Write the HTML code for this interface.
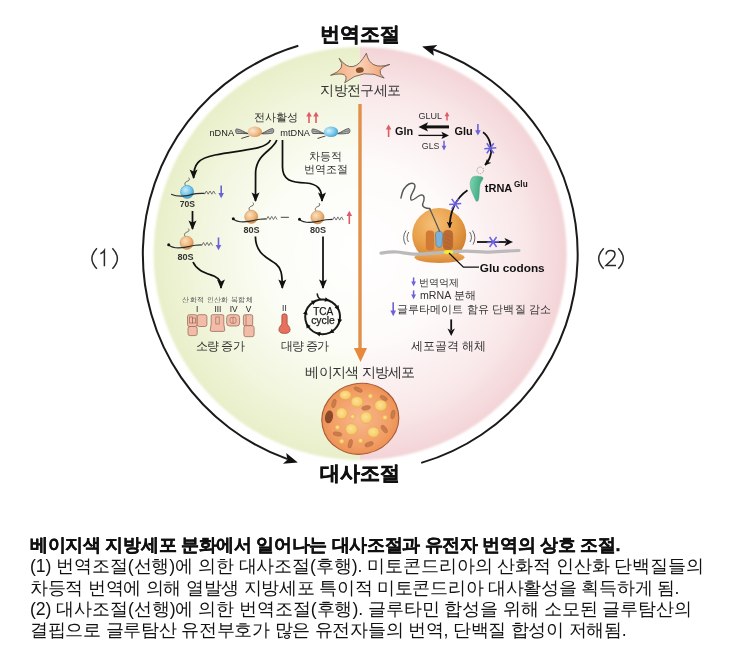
<!DOCTYPE html>
<html><head><meta charset="utf-8">
<style>
html,body{margin:0;padding:0;background:#fff;width:745px;height:658px;overflow:hidden}
svg{position:absolute;left:0;top:0;display:block;will-change:transform}
text{font-family:"Liberation Sans",sans-serif}
.cap{will-change:transform;position:absolute;left:29.5px;white-space:nowrap;font-family:"Liberation Sans",sans-serif;font-size:17.7px;color:#111;line-height:21px}
</style></head><body>
<svg width="745" height="658" viewBox="0 0 745 658">
<defs>
  <radialGradient id="gL" cx="360.2" cy="253.5" r="206.5" gradientUnits="userSpaceOnUse">
    <stop offset="0" stop-color="#ffffff"/>
    <stop offset="0.45" stop-color="#fcfdf6"/>
    <stop offset="0.8" stop-color="#f1f5dc"/>
    <stop offset="1" stop-color="#e8efc8"/>
  </radialGradient>
  <radialGradient id="gR" cx="360.2" cy="253.5" r="206.5" gradientUnits="userSpaceOnUse">
    <stop offset="0" stop-color="#ffffff"/>
    <stop offset="0.45" stop-color="#fefafa"/>
    <stop offset="0.8" stop-color="#f9e7e8"/>
    <stop offset="1" stop-color="#f3d4d7"/>
  </radialGradient>
  <clipPath id="cl"><rect x="0" y="0" width="360" height="658"/></clipPath>
  <clipPath id="cr"><rect x="360" y="0" width="400" height="658"/></clipPath>

  <radialGradient id="gOr" cx="0.38" cy="0.35" r="0.7">
    <stop offset="0" stop-color="#fbe0bc"/>
    <stop offset="0.6" stop-color="#eeb47a"/>
    <stop offset="1" stop-color="#d08a48"/>
  </radialGradient>
  <radialGradient id="gBl" cx="0.38" cy="0.35" r="0.7">
    <stop offset="0" stop-color="#c8ecfa"/>
    <stop offset="0.6" stop-color="#6cc4ea"/>
    <stop offset="1" stop-color="#3a98c8"/>
  </radialGradient>
  <radialGradient id="gDn" cx="0.35" cy="0.4" r="0.75">
    <stop offset="0" stop-color="#fbe6d0"/>
    <stop offset="0.55" stop-color="#efbd8c"/>
    <stop offset="1" stop-color="#d88a48"/>
  </radialGradient>
  <radialGradient id="gDb" cx="0.35" cy="0.4" r="0.75">
    <stop offset="0" stop-color="#d8f2fc"/>
    <stop offset="0.55" stop-color="#78c8ec"/>
    <stop offset="1" stop-color="#3894c8"/>
  </radialGradient>
  <marker id="ah" viewBox="0 0 10 10" refX="9" refY="5" markerWidth="9.5" markerHeight="9.5" orient="auto" markerUnits="userSpaceOnUse">
    <path d="M0,0.8 L10,5 L0,9.2 L2.2,5 Z" fill="#111"/>
  </marker>
  <g id="aaa"><path d="M0,0.8 l1.8,-3.2 l1.8,3.2 l1.8,-3.2 l1.8,3.2 l1.8,-3.2 l1.8,3.2" fill="none" stroke="#555" stroke-width="0.8"/></g>
  <g id="ribO">
    <path d="M-1.5,-6.4 C-3.2,-8.6 -1.5,-10.2 0.5,-10.8 C2.5,-11.4 2.8,-13 1.5,-14.2" fill="none" stroke="#555" stroke-width="0.9"/>
    <circle cx="0" cy="0" r="6.6" fill="url(#gOr)" stroke="#b98654" stroke-width="0.5"/>
    <path d="M-18,2 Q-15,5 -8,5 Q-2,4.8 3,3.5 Q8,2 15,2" fill="none" stroke="#2a2a2a" stroke-width="1.2"/>
    <circle cx="-18" cy="2" r="1.5" fill="#111"/>
    <use href="#aaa" x="15" y="2"/>
  </g>
  <g id="dnaWings">
    <path d="M-18.5,-2.6 C-14,-2.4 -11,0.5 -6.5,2.2 C-10.5,2.4 -14.5,1.6 -18.2,2 C-19.4,0.4 -19.4,-1.2 -18.5,-2.6 Z" fill="#b4b4b4" stroke="#3a3a3a" stroke-width="0.75"/>
    <path d="M-18,-0.5 C-14,0 -11,1.5 -6.5,2.2" fill="none" stroke="#3a3a3a" stroke-width="0.5"/>
    <path d="M18,-3 C14,-2.6 11,0.5 6.5,2.2 C10.5,2.6 14.5,2.2 18,1.6 C19.3,0 19.2,-1.6 18,-3 Z" fill="#b4b4b4" stroke="#3a3a3a" stroke-width="0.75"/>
    <path d="M18,-0.8 C14,-0.3 11,1.5 6.5,2.2" fill="none" stroke="#3a3a3a" stroke-width="0.5"/>
    <path d="M-13.5,7 Q-10,5.8 -5.5,4.5" fill="none" stroke="#333" stroke-width="0.9"/>
  </g>

  <radialGradient id="gLsu" cx="0.4" cy="0.3" r="0.75">
    <stop offset="0" stop-color="#f6c078"/>
    <stop offset="0.55" stop-color="#e9a04a"/>
    <stop offset="1" stop-color="#cc7a2c"/>
  </radialGradient>
  <linearGradient id="gSsu" x1="0" y1="0" x2="0" y2="1">
    <stop offset="0" stop-color="#f0b060"/>
    <stop offset="1" stop-color="#d88838"/>
  </linearGradient>
  <linearGradient id="gTr" x1="0" y1="0" x2="1" y2="0.3">
    <stop offset="0" stop-color="#7ed6b0"/>
    <stop offset="1" stop-color="#3aa57e"/>
  </linearGradient>
  <radialGradient id="gAd" cx="0.5" cy="0.5" r="0.55">
    <stop offset="0" stop-color="#f8b88e"/>
    <stop offset="0.7" stop-color="#f29e64"/>
    <stop offset="1" stop-color="#ea8c50"/>
  </radialGradient>
  <radialGradient id="gLip" cx="0.45" cy="0.45" r="0.6">
    <stop offset="0" stop-color="#fde29a"/>
    <stop offset="1" stop-color="#f4c65a"/>
  </radialGradient>
  <linearGradient id="gCell" x1="0" y1="0" x2="1" y2="0">
    <stop offset="0" stop-color="#f4a878"/>
    <stop offset="0.5" stop-color="#fad0b4"/>
    <stop offset="1" stop-color="#ee9a66"/>
  </linearGradient>
  <marker id="ahs" viewBox="0 0 10 10" refX="9" refY="5" markerWidth="6.5" markerHeight="6.5" orient="auto" markerUnits="userSpaceOnUse">
    <path d="M0,0.5 L10,5 L0,9.5 L2.5,5 Z" fill="#111"/>
  </marker>
  <g id="ast"><path d="M-6,0.5 L6,-0.5 M-3.5,-5 L3.5,5 M3.5,-5 L-3.5,5" stroke="#6a62e0" stroke-width="1.5" fill="none"/></g>
  <filter id="soft" x="-5%" y="-5%" width="110%" height="110%"><feGaussianBlur stdDeviation="0.9"/></filter>
</defs>
<!-- circle -->
<circle cx="360.2" cy="253.5" r="206.5" fill="url(#gL)" clip-path="url(#cl)" filter="url(#soft)"/>
<circle cx="360.2" cy="253.5" r="206.5" fill="url(#gR)" clip-path="url(#cr)" filter="url(#soft)"/>
<!-- outer arcs -->
<path d="M298.3 45.8 A217.4 217.4 0 0 0 287.6 459.1" fill="none" stroke="#1a1a1a" stroke-width="2"/>
<path d="M421.2 462.9 A217.4 217.4 0 0 0 432.9 49.3" fill="none" stroke="#1a1a1a" stroke-width="2"/>
<path d="M297.8 462.6 L286.2 453 L287.4 459.8 L283 463.8 Z" fill="#111"/>
<path d="M422.1 46.5 L437.4 44.9 L433 48.9 L433.8 55.8 Z" fill="#111"/>
<!-- titles -->
<text x="359.5" y="40.6" font-size="19.8" font-weight="bold" text-anchor="middle" fill="#111" stroke="#111" stroke-width="0.6">번역조절</text>
<text x="360" y="480.4" font-size="19.8" font-weight="bold" text-anchor="middle" fill="#111" stroke="#111" stroke-width="0.6">대사조절</text>
<g fill="none" stroke="#2a2a2a" stroke-width="1.5" stroke-linecap="butt">
  <path d="M96.9,248.2 Q91.9,253.5 91.9,258.4 Q91.9,263.4 96.9,268.7"/>
  <path d="M100.4,253.8 Q103,252.6 104.4,250.3 L104.4,266.2"/>
  <path d="M112.4,248.2 Q117.4,253.5 117.4,258.4 Q117.4,263.4 112.4,268.7"/>
</g>
<g fill="none" stroke="#2a2a2a" stroke-width="1.5" stroke-linecap="butt">
  <path d="M603.7,248.2 Q598.7,253.5 598.7,258.4 Q598.7,263.4 603.7,268.7"/>
  <path d="M606,254.5 Q606.5,250.6 610.6,250.6 Q615,250.6 615,254.3 Q615,256.8 612.5,259.2 L606,265.5 L616,265.5"/>
  <path d="M618.3,248.2 Q623.3,253.5 623.3,258.4 Q623.3,263.4 618.3,268.7"/>
</g>
<!-- orange center arrow -->
<line x1="360" y1="104" x2="360" y2="350" stroke="#e0904a" stroke-width="3.4"/>
<path d="M353.9 347.9 L360.5 362 L367 347.9 Z" fill="#e8883a"/>
<text x="360.5" y="94.8" font-size="14" letter-spacing="-0.6" text-anchor="middle" fill="#333">지방전구세포</text>
<text x="360" y="377.4" font-size="14" letter-spacing="-0.7" text-anchor="middle" fill="#333">베이지색 지방세포</text>

<!-- ===== LEFT CONTENT ===== -->
<text x="276.3" y="121.3" font-size="10.6" text-anchor="middle" fill="#333">전사활성</text>
<g fill="#e05a64" stroke="#e05a64">
  <line x1="309" y1="123" x2="309" y2="115" stroke-width="1.6"/><path d="M306.2,116.5 L309,111.8 L311.8,116.5 Z" stroke="none"/>
  <line x1="316" y1="123" x2="316" y2="115" stroke-width="1.6"/><path d="M313.2,116.5 L316,111.8 L318.8,116.5 Z" stroke="none"/>
</g>
<text x="209.5" y="135.6" font-size="9.2" fill="#222">nDNA</text>
<text x="280.3" y="135.6" font-size="9.2" fill="#222">mtDNA</text>
<g transform="translate(254.8,131.5)"><use href="#dnaWings"/><ellipse cx="0" cy="0.3" rx="7.2" ry="5.2" fill="url(#gDn)"/></g>
<g transform="translate(331,131.5)"><use href="#dnaWings"/><ellipse cx="0" cy="0.3" rx="7.2" ry="5.2" fill="url(#gDb)"/></g>
<text x="325.1" y="159.8" font-size="10.8" text-anchor="middle" fill="#333">차등적</text>
<text x="326" y="172.6" font-size="10.8" text-anchor="middle" fill="#333">번역조절</text>
<!-- arrows from DNA -->
<g fill="none" stroke="#111" stroke-width="1.75" marker-end="url(#ah)">
  <path d="M270.5,140 C266,150 240,150 215,155 C198,158.5 193.6,164 193.6,178"/>
  <path d="M276.8,140 C273,151 257,153 255.6,172 L255.5,201"/>
  <path d="M282.5,140 L282.5,167 C282.5,180 291,182.5 306,183 C318,184 322,189 322,201"/>
  <path d="M192.5,211 L192.5,229"/>
  <path d="M193,262 C197,271 206,273 214,276 C220,279 221,282 221,288"/>
  <path d="M255.4,236.5 C255.5,254 268,258 276,264 C281,268 282.3,273 282.3,288"/>
  <path d="M323,236.5 L323,288"/>
</g>
<!-- 70S -->
<g transform="translate(187.1,191.9)">
  <path d="M-1.5,-6.4 C-3.2,-8.6 -1.5,-10.2 0.5,-10.8 C2.5,-11.4 2.8,-13 1.5,-14.2" fill="none" stroke="#555" stroke-width="0.9"/>
  <circle cx="0" cy="0" r="6.6" fill="url(#gBl)" stroke="#3f8fba" stroke-width="0.5"/>
  <path d="M-16,2.3 Q-11,4.5 -5,4.3 Q1,4 5,2.5 Q9,1.2 17.5,1.5" fill="none" stroke="#2a2a2a" stroke-width="1.2"/>
  <use href="#aaa" x="17.5" y="1.5"/>
</g>
<text x="187.3" y="207" font-size="8.6" font-weight="bold" text-anchor="middle" fill="#333">70S</text>
<g transform="translate(186.7,242.8)"><use href="#ribO"/></g>
<text x="185.5" y="259.6" font-size="9.1" font-weight="bold" text-anchor="middle" fill="#333">80S</text>
<g transform="translate(251.3,216.8)"><use href="#ribO"/></g>
<text x="251.5" y="232.8" font-size="9.1" font-weight="bold" text-anchor="middle" fill="#333">80S</text>
<line x1="280.8" y1="217.3" x2="288.9" y2="217.3" stroke="#444" stroke-width="1"/>
<g transform="translate(317.5,217.3)"><use href="#ribO"/></g>
<text x="318" y="232.8" font-size="9.1" font-weight="bold" text-anchor="middle" fill="#333">80S</text>
<!-- blue/red small arrows -->
<g fill="#6a62d8" stroke="#6a62d8">
  <line x1="221.2" y1="185.5" x2="221.2" y2="194" stroke-width="1.6"/><path d="M218.4,193 L221.2,198.2 L224,193 Z" stroke="none"/>
  <line x1="218.5" y1="237.5" x2="218.5" y2="246" stroke-width="1.6"/><path d="M215.7,245 L218.5,250.2 L221.3,245 Z" stroke="none"/>
</g>
<g fill="#e05a64" stroke="#e05a64">
  <line x1="349.3" y1="224" x2="349.3" y2="215" stroke-width="1.6"/><path d="M346.5,216 L349.3,210.8 L352.1,216 Z" stroke="none"/>
</g>
<!-- complexes -->
<text x="217.6" y="302" font-size="6.8" letter-spacing="0.35" text-anchor="middle" fill="#555">산화적 인산화 복합체</text>
<g font-size="8.4" fill="#222" text-anchor="middle">
  <text x="197.2" y="312.3">I</text><text x="217.9" y="312.3">III</text><text x="233.7" y="312.3">IV</text><text x="248.5" y="312.3">V</text>
</g>
<g fill="#f3bca8" stroke="#9a6e5e" stroke-width="0.8">
  <rect x="187.5" y="314.7" width="9.7" height="11.8" rx="2"/>
  <rect x="197.2" y="314.7" width="9.7" height="11.8" rx="2"/>
  <rect x="188" y="326.5" width="9.2" height="9.1" rx="2"/>
  <path d="M212.5,314.7 h10 q1.3,0 1.3,1.3 v8 l1,6 q0,1.4 -1.4,1.4 h-11.8 q-1.4,0 -1.4,-1.4 l1,-6 v-8 q0,-1.3 1.3,-1.3 Z"/>
  <rect x="226.7" y="314.7" width="12.9" height="11.3" rx="3"/>
  <rect x="243.4" y="314.7" width="9.3" height="11" rx="1.5"/>
  <rect x="243.9" y="325.7" width="10.2" height="11" rx="2"/>
</g>
<g fill="none" stroke="#9a6e5e" stroke-width="0.7">
  <rect x="189.5" y="317" width="3" height="6"/><rect x="192.5" y="318" width="3" height="5"/>
  <rect x="215.8" y="317" width="3.4" height="7"/>
  <rect x="230" y="317.3" width="6" height="6" rx="2"/><line x1="233" y1="317.3" x2="233" y2="323.3"/>
  <line x1="246" y1="315" x2="246" y2="325"/>
</g>
<text x="284.4" y="311" font-size="8.4" text-anchor="middle" fill="#222">II</text>
<path d="M282.5,314.3 q2,-1 3.8,0 q0.8,0.6 0.8,2 v7 q0,1 1,2 q2,2 2,4.5 q0,3.6 -5.6,3.6 q-5.6,0 -5.6,-3.6 q0,-2.5 2,-4.5 q1,-1 1,-2 v-7 q0,-1.4 0.6,-2 Z" fill="#e8705e" stroke="#9a4a3a" stroke-width="0.8"/>
<!-- TCA -->
<circle cx="322.6" cy="316.8" r="17.4" fill="none" stroke="#1a1a1a" stroke-width="2"/>
<path d="M317.1,293.4 Q317.5,297.5 320.8,299.6" fill="none" stroke="#1a1a1a" stroke-width="1.4"/>
<g fill="#111">
<path d="M329.5,300.6 L325.6,297.2 L324.5,301.8 Z"/>
<path d="M339.0,310.2 L338.6,305.1 L334.5,307.5 Z"/>
<path d="M338.8,323.7 L342.2,319.8 L337.6,318.7 Z"/>
<path d="M329.2,333.2 L334.3,332.8 L331.9,328.7 Z"/>
<path d="M315.7,333.0 L319.6,336.4 L320.7,331.8 Z"/>
<path d="M306.2,323.4 L306.6,328.5 L310.7,326.1 Z"/>
<path d="M306.4,309.9 L303.0,313.8 L307.6,314.9 Z"/>
<path d="M316.0,300.4 L310.9,300.8 L313.3,304.9 Z"/>
</g>
<text x="323.2" y="315.1" font-size="10" text-anchor="middle" fill="#1a1a1a" stroke="#1a1a1a" stroke-width="0.25">TCA</text>
<text x="323" y="323.8" font-size="10.4" text-anchor="middle" fill="#1a1a1a" stroke="#1a1a1a" stroke-width="0.25">cycle</text>
<text x="219.8" y="350" font-size="12" letter-spacing="-0.6" text-anchor="middle" fill="#333">소량 증가</text>
<text x="304.5" y="350" font-size="12" letter-spacing="-0.9" text-anchor="middle" fill="#333">대량 증가</text>

<!-- ===== RIGHT CONTENT ===== -->
<g fill="#e05a64" stroke="#e05a64">
  <line x1="388.6" y1="137" x2="388.6" y2="128" stroke-width="1.6"/><path d="M385.8,129.5 L388.6,124.5 L391.4,129.5 Z" stroke="none"/>
  <line x1="447" y1="120.5" x2="447" y2="115" stroke-width="1.5"/><path d="M444.6,116.3 L447,111.8 L449.4,116.3 Z" stroke="none"/>
</g>
<g fill="#6a62d8" stroke="#6a62d8">
  <line x1="444" y1="140.8" x2="444" y2="146.5" stroke-width="1.5"/><path d="M441.6,145.8 L444,150.5 L446.4,145.8 Z" stroke="none"/>
  <line x1="477.9" y1="124" x2="477.9" y2="131" stroke-width="1.6"/><path d="M475.1,130.2 L477.9,135.5 L480.7,130.2 Z" stroke="none"/>
  <line x1="413.6" y1="277.5" x2="413.6" y2="282" stroke-width="1.5"/><path d="M411.2,281.5 L413.6,286.3 L416,281.5 Z" stroke="none"/>
  <line x1="413.6" y1="290.4" x2="413.6" y2="295" stroke-width="1.5"/><path d="M411.2,294.5 L413.6,299.2 L416,294.5 Z" stroke="none"/>
  <line x1="393.2" y1="302.2" x2="393.2" y2="311" stroke-width="1.6"/><path d="M390.4,310.5 L393.2,316.3 L396,310.5 Z" stroke="none"/>
</g>
<text x="395" y="135.2" font-size="10.9" font-weight="bold" fill="#111">Gln</text>
<text x="454.5" y="135.2" font-size="10.9" font-weight="bold" fill="#111">Glu</text>
<text x="418.5" y="119.4" font-size="9" fill="#333">GLUL</text>
<text x="421.8" y="149.4" font-size="8.8" fill="#333">GLS</text>
<line x1="449" y1="126.9" x2="426" y2="126.9" stroke="#111" stroke-width="3"/>
<path d="M418.5,126.9 L428,122.3 L426,126.9 L428,131.5 Z" fill="#111"/>
<line x1="418.5" y1="135.4" x2="443" y2="135.4" stroke="#111" stroke-width="1.3"/>
<path d="M449,135.4 L441.5,131.8 L443,135.4 L441.5,139 Z" fill="#111"/>
<path d="M483,132.2 C489,136 492,146 491,153 C490,159 488,162 485,165" fill="none" stroke="#111" stroke-width="1.8" marker-end="url(#ahs)"/>
<use href="#ast" x="490.3" y="148.2"/>
<circle cx="480.3" cy="170.3" r="3.3" fill="none" stroke="#888" stroke-width="0.8" stroke-dasharray="1.2,1"/>
<path d="M471.2,179 C472,176.5 474.5,176 477,176.2 C480,176.4 483.5,176.5 483,178.6 C482.6,180.5 480.6,182 480,184.5 C479.2,188 479.5,193 478.8,198 C478.4,201.5 476.5,202.5 475.5,200 C473.5,195 470.4,190 470.2,185.5 C470,182.5 470.5,180.5 471.2,179 Z" fill="url(#gTr)" stroke="#3a9a74" stroke-width="0.4"/>
<text x="484.8" y="192" font-size="11" font-weight="bold" fill="#111">tRNA</text>
<text x="514" y="186.6" font-size="8.2" font-weight="bold" fill="#111">Glu</text>
<!-- big ribosome -->
<path d="M400.9,198.1 C402,192 405,186 409,184 C413,182 416,184 414.6,188 C413.5,192 409,197 411,199.8 C413,202 418,195 421.5,194.9 C425,195 424.5,200 422.8,203.5 C421.5,207 426,208.5 429.7,208.5 L439.7,231" fill="none" stroke="#555" stroke-width="1.4" stroke-linecap="round"/>
<circle cx="439.2" cy="235" r="27" fill="url(#gLsu)"/>
<rect x="425.8" y="230.6" width="8.4" height="20" rx="3.5" fill="#d07a34"/>
<path d="M437.5,231.5 C441,230.5 443,232 442.8,236 L442,245 C441.5,248 437,248 436,245 L435.5,235 C435.4,233 436,232 437.5,231.5 Z" fill="#7ab2da" stroke="#4a7090" stroke-width="0.6"/>
<rect x="443" y="229.9" width="10.1" height="20.5" rx="4.5" fill="#bb6a32"/>
<path d="M445,234 l6,3 M445,238 l6,3 M445,242 l6,3 M444.5,246 l6,2" stroke="#9a5424" stroke-width="0.5" opacity="0.7"/>
<line x1="429.7" y1="208.5" x2="439.7" y2="231.5" stroke="#555" stroke-width="1.2"/>
<ellipse cx="439.5" cy="257.3" rx="25" ry="5.6" fill="url(#gSsu)"/>
<path d="M381,253.1 C388,252 392,251.5 397,252 C405,253 410,254.2 417,254.1 C425,254 430,253.4 437,252.8 C445,252 455,251.2 466,251.1 C475,251.2 480,252.2 487,252.1 C497,251.8 508,250.8 519,250.5" fill="none" stroke="#bababa" stroke-width="3.2" stroke-linecap="round"/>
<ellipse cx="448.5" cy="251.9" rx="4.8" ry="2" fill="#f4ec30"/>
<path d="M467.5,190.3 C456,198 449.5,212 449.7,227.5" fill="none" stroke="#111" stroke-width="1.8" marker-end="url(#ahs)"/>
<use href="#ast" x="455.2" y="203.9"/>
<g fill="none" stroke="#555" stroke-width="0.9">
  <path d="M406,230.5 Q401.5,237.5 405.5,244.5"/><path d="M408.8,232 Q405.5,237.5 408.5,242"/>
  <path d="M472.5,230.5 Q477,237.5 473,244.5"/><path d="M469.7,232 Q473,237.5 470,242"/>
</g>
<path d="M449,253 L463.4,267.2 L479,267.2" fill="none" stroke="#111" stroke-width="1.3"/>
<line x1="477" y1="242" x2="506" y2="242" stroke="#111" stroke-width="1.8"/>
<path d="M513,242 L504.5,238 L506.5,242 L504.5,246 Z" fill="#111"/>
<use href="#ast" x="493.1" y="242"/>
<text x="479.8" y="272" font-size="11.8" font-weight="bold" fill="#111">Glu codons</text>
<text x="419" y="285.6" font-size="10.4" fill="#333">번역억제</text>
<text x="420" y="299" font-size="10.6" fill="#333">mRNA 분해</text>
<text x="396.5" y="312.8" font-size="11.2" letter-spacing="0.15" fill="#333">글루타메이트 함유 단백질 감소</text>
<line x1="451.2" y1="319.4" x2="451.2" y2="330" stroke="#111" stroke-width="1.8"/>
<path d="M451.2,336 L447.5,328.5 L451.2,330.5 L454.9,328.5 Z" fill="#111"/>
<text x="448.5" y="350" font-size="12" text-anchor="middle" fill="#333">세포골격 해체</text>

<!-- ===== CELLS ===== -->
<path d="M339.1,58.3 Q353.2,77.4 366.4,53.2 Q369.9,70.8 389.8,64.4 Q373.4,69.2 384.2,78.1 Q363.6,67.2 344.7,82.8 Q350.8,70.5 330.6,75.3 Q347.5,68.8 339.1,58.3 Z" fill="url(#gCell)" stroke="#6e5a50" stroke-width="0.9" stroke-linejoin="round"/>
<ellipse cx="359.8" cy="70.1" rx="4" ry="2.8" fill="#8a5228" transform="rotate(-10 359.8 70.1)"/>
<g transform="rotate(-12 360.3 418.8)">
<ellipse cx="360.3" cy="418.8" rx="38.6" ry="35.3" fill="url(#gAd)" stroke="#a85a38" stroke-width="1.1"/>
</g>
<ellipse cx="329" cy="416.9" rx="4" ry="6.5" fill="#8a4a2a" transform="rotate(10 329 416.9)"/>
<g fill="url(#gLip)" stroke="#e8a850" stroke-width="0.6">
  <ellipse cx="345.4" cy="395" rx="5.8" ry="4.6"/>
  <ellipse cx="357" cy="401.7" rx="6" ry="5.2"/>
  <ellipse cx="380.7" cy="405.4" rx="6" ry="5.5"/>
  <ellipse cx="341.8" cy="413.3" rx="5.5" ry="5.5"/>
  <ellipse cx="366.1" cy="417.5" rx="6" ry="5.8"/>
  <ellipse cx="351.5" cy="429.1" rx="6" ry="5.5"/>
  <ellipse cx="373.4" cy="432.1" rx="5.8" ry="5.2"/>
  <circle cx="370.4" cy="396.2" r="2.4"/>
  <circle cx="352.7" cy="416.7" r="2.3"/>
  <circle cx="385" cy="417.5" r="2.4"/>
  <circle cx="337.5" cy="427.3" r="2.4"/>
  <circle cx="341.8" cy="441.3" r="2.4"/>
  <circle cx="360.6" cy="440.7" r="2.4"/>
</g>
<g fill="#c87848" stroke="#a86038" stroke-width="0.4" opacity="0.9">
  <ellipse cx="358.2" cy="389.6" rx="4.5" ry="2" transform="rotate(25 358.2 389.6)"/>
  <ellipse cx="383.7" cy="398" rx="4" ry="2" transform="rotate(30 383.7 398)"/>
  <ellipse cx="333.9" cy="403.5" rx="2" ry="4.5" transform="rotate(15 333.9 403.5)"/>
  <ellipse cx="366.1" cy="407.8" rx="4.5" ry="2.2" transform="rotate(-10 366.1 407.8)"/>
  <ellipse cx="392.9" cy="414.5" rx="2" ry="4.5" transform="rotate(10 392.9 414.5)"/>
  <ellipse cx="384.3" cy="429.1" rx="2.2" ry="4.5" transform="rotate(-35 384.3 429.1)"/>
  <ellipse cx="337.5" cy="434" rx="4.5" ry="2" transform="rotate(10 337.5 434)"/>
  <ellipse cx="350.3" cy="443.7" rx="2" ry="4.5" transform="rotate(15 350.3 443.7)"/>
  <ellipse cx="369.1" cy="444.3" rx="4.5" ry="2.2" transform="rotate(-20 369.1 444.3)"/>
</g>
<!--CONTENT-->
</svg>
<div class="cap" style="top:535px;font-weight:bold;letter-spacing:-0.3px;-webkit-text-stroke:0.35px #111">베이지색 지방세포 분화에서 일어나는 대사조절과 유전자 번역의 상호 조절.</div>
<div class="cap" style="top:556px;letter-spacing:-0.096px">(1) 번역조절(선행)에 의한 대사조절(후행). 미토콘드리아의 산화적 인산화 단백질들의</div>
<div class="cap" style="top:577.5px;letter-spacing:-0.27px">차등적 번역에 의해 열발생 지방세포 특이적 미토콘드리아 대사활성을 획득하게 됨.</div>
<div class="cap" style="top:599px;letter-spacing:-0.068px">(2) 대사조절(선행)에 의한 번역조절(후행). 글루타민 합성을 위해 소모된 글루탐산의</div>
<div class="cap" style="top:620px;letter-spacing:-0.26px">결핍으로 글루탐산 유전부호가 많은 유전자들의 번역, 단백질 합성이 저해됨.</div>
</body></html>
